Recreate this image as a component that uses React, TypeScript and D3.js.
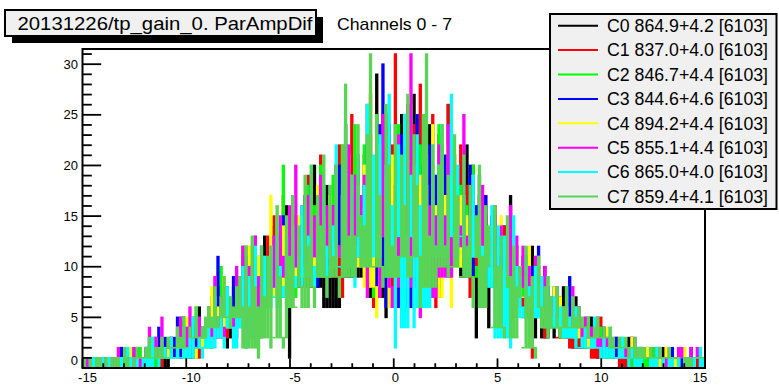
import React from 'react';
import * as d3 from 'd3';

// ---------- data ----------
const CHANNELS = ['C0', 'C1', 'C2', 'C3', 'C4', 'C5', 'C6', 'C7'];
const MEANS = ['864.9', '837.0', '846.7', '844.6', '894.2', '855.1', '865.0', '859.4'];
const RMS = ['4.2', '4.0', '4.4', '4.6', '4.4', '4.4', '4.0', '4.1'];
const ENTRIES = [6103, 6103, 6103, 6103, 6103, 6103, 6103, 6103];
const COLORS = ['#000000', '#ff0000', '#00ff00', '#0000ff', '#ffff00', '#ff00ff', '#00ffff', '#59d454'];

const X_MIN = -15;
const X_MAX = 15;
const BIN_W = 0.15;
const X_TICKS = [-15, -10, -5, 0, 5, 10, 15];
const Y_TICKS = [0, 5, 10, 15, 20, 25, 30];
const Y_MAX = 31.5;

const C0 = [
  1,0,0,1,0,0,0,1,0,0, 0,1,2,0,1,1,0,2,1,0, 2,1,0,3,2,1,2,0,3,2, 3,2,5,1,4,3,2,6,3,4,
  4,7,5,3,8,6,2,7,5,9, 7,11,5,9,12,8,4,10,13,8, 9,14,10,13,8,16,1,12,15,11, 12,17,8,15,20,11,14,6,18,13,
  15,20,6,18,24,13,17,9,21,16, 18,26,7,20,29,15,22,5,24,19, 21,14,25,18,6,23,27,16,20,8, 19,24,13,17,8,22,15,26,11,18,
  14,9,18,22,12,16,3,19,13,17, 12,8,15,10,4,14,11,17,7,12, 9,5,11,7,12,3,9,6,10,8, 6,3,7,5,8,4,6,2,7,5,
  3,4,2,5,3,1,4,3,2,3, 2,3,1,2,0,3,2,1,2,1, 1,2,0,1,1,0,2,1,0,1, 1,0,1,0,1,1,0,0,1,0,
];
const C1 = [
  0,0,1,0,0,0,0,0,1,0, 0,1,0,0,1,0,1,0,0,1, 1,0,2,1,0,2,1,1,3,1, 2,4,1,3,2,5,3,1,4,2,
  5,3,7,4,6,9,3,5,8,6, 8,5,12,7,10,4,11,9,6,13, 10,15,7,12,17,9,13,6,14,11, 16,10,19,13,8,17,21,12,15,9,
  18,13,22,7,20,16,25,11,19,14, 21,15,27,6,23,18,8,25,17,22, 31,16,22,7,26,19,24,13,28,10, 20,14,25,6,23,17,12,26,15,21,
  16,22,11,18,7,20,14,17,9,15, 13,8,16,11,5,14,9,12,6,10, 8,11,6,9,1,7,10,5,6,8, 5,7,3,6,4,8,2,5,4,6,
  3,2,4,1,3,2,5,2,1,3, 1,2,0,2,1,1,3,0,1,2, 1,0,1,0,2,0,1,1,0,0, 0,1,0,0,0,1,0,1,0,0,
];
const C2 = [
  0,1,0,0,1,0,1,0,0,0, 1,0,1,2,0,1,0,1,2,1, 2,1,3,0,2,2,1,3,1,2, 3,5,2,4,1,3,6,2,4,3,
  6,4,8,3,10,5,7,4,9,6, 7,12,3,10,8,13,2,9,11,7, 12,8,14,10,20,9,13,16,7,12, 15,11,18,9,16,13,20,10,14,17,
  19,12,16,22,10,18,14,24,13,17, 22,16,20,7,25,18,14,23,19,9, 18,24,8,21,15,26,17,6,22,19, 16,21,7,19,24,14,18,10,20,15,
  14,18,10,16,12,20,9,15,17,11, 11,14,8,13,10,6,12,15,9,11, 8,10,5,9,7,11,6,8,4,9, 6,4,7,3,6,5,8,4,6,5,
  3,5,2,4,3,2,4,1,3,2, 2,1,3,2,1,2,0,2,1,1, 1,1,0,2,1,0,1,1,0,1, 0,1,1,0,0,1,0,0,1,0,
];
const C3 = [
  1,0,0,1,0,1,0,0,1,0, 1,0,2,1,0,1,2,0,1,1, 2,3,1,2,4,1,3,2,1,3, 5,2,4,3,1,4,3,5,2,4,
  4,7,5,11,6,3,8,5,9,6, 9,6,11,7,4,10,8,12,6,9, 11,8,13,9,15,7,12,10,14,9, 13,16,10,19,12,8,15,18,11,14,
  16,12,20,14,22,10,17,13,19,15, 17,22,8,19,15,24,30,6,20,18, 19,9,23,16,21,6,18,25,15,20, 17,22,13,19,7,11,21,15,18,14,
  15,11,18,13,20,9,16,12,14,17, 12,15,9,13,7,11,14,10,12,8, 9,7,11,8,10,6,12,7,9,8, 6,8,5,7,4,6,9,5,3,6,
  4,3,5,2,4,3,2,4,3,2, 2,3,1,2,2,1,3,2,1,2, 1,2,1,0,1,2,0,1,1,2, 1,0,1,1,0,2,1,0,1,0,
];
const C4 = [
  0,1,0,0,0,1,0,0,1,0, 1,0,1,1,0,2,0,1,0,1, 1,2,0,3,1,2,1,2,3,1, 4,2,3,5,2,3,1,4,3,2,
  5,8,4,6,3,9,5,7,4,6, 7,10,6,12,8,5,11,7,9,6, 17,9,12,8,14,10,7,13,11,15, 13,9,16,11,14,18,10,15,12,17,
  14,19,11,17,13,21,15,10,18,16, 20,8,28,16,5,22,17,19,13,21, 15,21,6,12,23,17,20,9,19,16, 18,7,24,16,20,12,17,22,6,19,
  13,17,10,15,12,19,14,11,16,13, 11,14,9,12,15,8,13,10,7,12, 10,7,9,12,6,8,11,5,9,7, 6,8,5,7,3,6,4,7,5,6,
  4,3,5,2,3,4,2,3,4,2, 2,1,3,2,2,1,3,1,2,2, 1,2,1,1,0,2,1,2,1,0, 1,1,0,2,1,0,1,1,2,1,
];
const C5 = [
  0,1,1,0,1,0,1,0,0,1, 1,2,0,1,1,0,2,1,1,0, 2,4,1,3,2,5,1,2,3,2, 3,5,2,4,6,3,2,5,4,3,
  6,4,9,5,7,3,8,6,5,10, 8,12,2,10,7,13,9,3,11,8, 10,13,8,15,11,9,16,12,20,10, 14,11,17,9,15,13,19,12,16,10,
  16,20,12,18,14,22,11,19,15,17, 19,7,23,13,21,17,25,16,20,6, 18,23,8,20,26,31,13,22,5,19, 21,16,19,7,22,18,15,24,9,20,
  17,14,25,12,16,19,13,15,18,11, 13,10,15,11,14,8,12,16,10,13, 9,12,7,10,8,11,6,9,10,7, 7,5,8,4,6,7,5,8,4,6,
  4,5,3,4,2,5,3,4,3,2, 3,2,1,3,2,2,1,3,2,1, 2,1,2,1,2,2,1,0,2,1, 1,2,2,1,1,2,1,2,1,1,
];
const C6 = [
  1,0,1,1,0,0,1,0,1,0, 0,1,1,0,2,1,0,1,0,1, 2,1,3,1,0,2,2,1,3,1, 3,1,4,2,3,5,2,3,1,4,
  5,3,7,4,6,2,8,5,4,7, 6,10,2,9,7,12,3,8,11,6, 12,7,15,10,8,13,6,14,9,11, 16,10,13,20,8,15,11,18,12,9,
  14,22,10,17,24,12,19,8,21,15, 18,26,11,21,15,23,9,20,27,16, 2,22,17,25,13,19,4,23,16,21, 18,6,22,12,20,24,11,17,27,15,
  20,13,17,9,15,19,11,16,12,14, 12,16,3,14,8,13,11,2,15,10, 9,6,11,8,5,10,7,9,4,8, 5,7,4,6,3,8,5,4,6,2,
  3,4,2,3,5,2,1,3,2,4, 2,1,2,3,1,0,2,1,2,1, 1,0,1,1,2,0,1,0,1,1, 0,1,0,1,1,0,1,0,2,1,
];
const C7 = [
  1,0,1,0,1,1,0,1,0,1, 1,1,0,2,1,0,1,2,1,1, 2,3,1,2,2,3,1,3,2,2, 4,3,5,2,4,3,6,3,4,5,
  6,5,8,4,7,9,5,7,6,8, 9,2,12,6,13,8,1,12,7,11, 12,3,16,9,2,15,11,17,6,14, 8,19,12,20,6,17,14,21,9,18,
  11,20,7,22,28,13,19,9,24,15, 14,23,31,10,25,17,8,26,20,12, 24,9,21,16,27,11,23,18,6,25, 31,13,22,8,20,24,12,19,10,23,
  17,9,21,12,18,6,15,20,11,16, 14,4,16,10,13,3,15,9,12,8, 10,2,12,7,9,1,11,6,8,9, 7,4,8,3,6,8,4,7,5,6,
  5,4,5,3,4,5,3,4,3,4, 3,2,3,2,3,1,2,3,2,2, 2,1,2,1,1,2,1,1,2,1, 1,1,0,1,1,1,0,1,1,1,
];
const SERIES = [C0, C1, C2, C3, C4, C5, C6, C7];

const FONT = '"Liberation Sans", Arial, Helvetica, sans-serif';
const WINDOW = 4;

export default function App() {
  const W = 779;
  const H = 390;
  const frame = { left: 82.5, right: 705, top: 49, bottom: 368 };
  const x = d3.scaleLinear().domain([X_MIN, X_MAX]).range([frame.left, frame.right]);
  const y = d3.scaleLinear().domain([0, Y_MAX]).range([frame.bottom, frame.top]);

  const minorX = d3.range(X_MIN, X_MAX + 0.001, 1);
  const minorY = d3.range(0, Math.floor(Y_MAX) + 1, 1);

  const histRects = (vals: number[], color: string, si: number) => {
    const out: JSX.Element[] = [];
    for (let i = 0; i < vals.length; i++) {
      const h = vals[i];
      const win = vals
        .slice(Math.max(0, i - WINDOW), Math.min(vals.length, i + WINDOW + 1))
        .slice()
        .sort((a, b) => a - b);
      const floor = win.length > 1 ? win[1] : win[0];
      const lo = Math.min(h, floor);
      const hi = Math.max(h, floor);
      const x0 = x(X_MIN + i * BIN_W);
      const x1 = x(X_MIN + (i + 1) * BIN_W);
      const yTop = y(hi) - 0.8;
      const yBot = Math.min(y(lo) + 0.8, frame.bottom);
      out.push(
        <rect key={`${si}-${i}`} x={x0} y={yTop} width={x1 - x0 + 0.2} height={Math.max(1.6, yBot - yTop)} fill={color} />
      );
    }
    return out;
  };

  const legendRowY = (i: number) => 25.7 + i * 24.4;

  return (
    <svg width={W} height={H} style={{ position: 'absolute', left: 0, top: 0, background: '#ffffff' }} fontFamily={FONT}>
      <rect x={0} y={0} width={W} height={H} fill="#ffffff" />
      <defs>
        <clipPath id="frameClip">
          <rect x={frame.left} y={frame.top} width={frame.right - frame.left} height={frame.bottom - frame.top} />
        </clipPath>
      </defs>
      <g clipPath="url(#frameClip)">
        {SERIES.map((s, si) => (
          <g key={si}>{histRects(s, COLORS[si], si)}</g>
        ))}
      </g>

      {/* frame */}
      <rect x={frame.left} y={frame.top} width={frame.right - frame.left} height={frame.bottom - frame.top} fill="none" stroke="#000" strokeWidth={2} />

      {/* y axis ticks */}
      {minorY.map((v) => (
        <line key={`ym${v}`} x1={frame.left} x2={frame.left + (v % 5 === 0 ? 18.7 : 9.3)} y1={y(v)} y2={y(v)} stroke="#000" strokeWidth={1.8} />
      ))}
      {Y_TICKS.map((v) => (
        <text key={`yl${v}`} x={78} y={v === 0 ? y(v) - 8 : y(v)} dy="0.35em" textAnchor="end" fontSize={13} fill="#000">
          {v}
        </text>
      ))}

      {/* x axis ticks */}
      {minorX.map((v) => (
        <line key={`xm${v}`} x1={x(v)} x2={x(v)} y1={frame.bottom} y2={frame.bottom - (v % 5 === 0 ? 9.6 : 4.8)} stroke="#000" strokeWidth={1.8} />
      ))}
      {X_TICKS.map((v) => (
        <text key={`xl${v}`} x={x(v) + (v < 0 ? 5 : v === X_MAX ? -5 : v === 0 ? 1.5 : 0)} y={382} textAnchor="middle" fontSize={13} fill="#000">
          {v}
        </text>
      ))}

      {/* title box */}
      <rect x={12} y={17} width={311} height={26} fill="#000" />
      <rect x={5} y={10} width={311} height={26} fill="#f0f0f0" stroke="#000" strokeWidth={2} />
      <text x={17.5} y={29.5} fontSize={19} fill="#000" textLength={295} lengthAdjust="spacingAndGlyphs">
        20131226/tp_gain_0. ParAmpDif
      </text>
      <text x={337} y={30} fontSize={17} fill="#000" textLength={115} lengthAdjust="spacingAndGlyphs">
        Channels 0 - 7
      </text>

      {/* legend */}
      <rect x={550} y={14} width={226.5} height={195} fill="#f0f0f0" stroke="#000" strokeWidth={2} />
      {CHANNELS.map((c, i) => (
        <g key={c}>
          <line x1={558} x2={598} y1={legendRowY(i)} y2={legendRowY(i)} stroke={COLORS[i]} strokeWidth={2} />
          <text x={607} y={legendRowY(i)} dy="0.36em" fontSize={17.5} fill="#000" textLength={161} lengthAdjust="spacingAndGlyphs">
            {`${c} ${MEANS[i]}+${RMS[i]} [${ENTRIES[i]}]`}
          </text>
        </g>
      ))}
    </svg>
  );
}
